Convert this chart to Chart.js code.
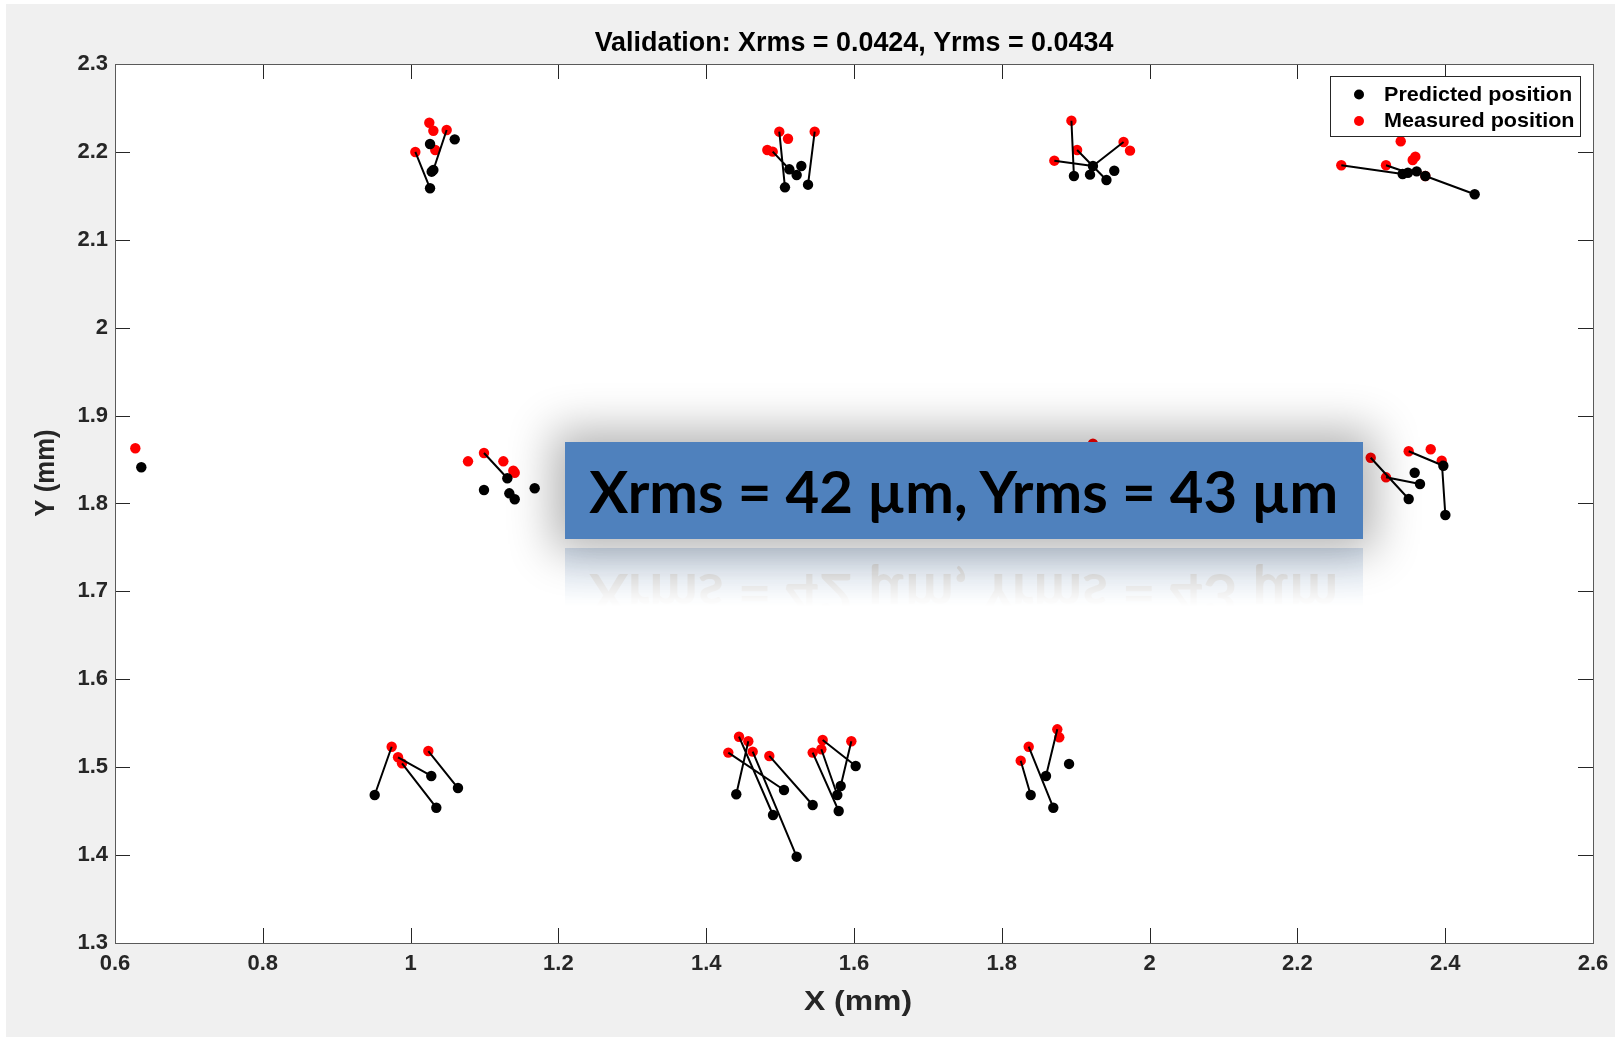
<!DOCTYPE html>
<html>
<head>
<meta charset="utf-8">
<script src="https://cdn.jsdelivr.net/npm/chart.js@4.4.1/dist/chart.umd.min.js"></script>
<style>
  html, body { margin: 0; padding: 0; background: #fff; }
  #wrap { position: relative; width: 1621px; height: 1040px; overflow: hidden; }
  #chart { position: absolute; left: 0; top: 0; }
  #callout {
    position: absolute; left: 565px; top: 442px; width: 798px; height: 97px;
    background: #4f81bd;
    box-shadow: 0 0 45px 12px rgba(0, 0, 0, 0.30);
    -webkit-box-reflect: below 9px linear-gradient(transparent 40%, rgba(255, 255, 255, 0.22));
    display: flex; align-items: center; justify-content: center;
    overflow: hidden; white-space: nowrap;
  }
  #callout span {
    display: inline-block; font: 700 58px Lato, "Open Sans", sans-serif;
    line-height: 97px; color: #000; transform-origin: center;
  }
</style>
</head>
<body>
<div id="wrap">
  <canvas id="chart" width="1621" height="1040"></canvas>
  <div id="callout"><span>Xrms = 42 µm, Yrms = 43 µm</span></div>
</div>
<script>
const xTicks = [0.6, 0.8, 1.0, 1.2, 1.4, 1.6, 1.8, 2.0, 2.2, 2.4, 2.6];
const yTicks = [1.3, 1.4, 1.5, 1.6, 1.7, 1.8, 1.9, 2.0, 2.1, 2.2, 2.3];

// predicted marker positions (mm)
const predX = [
  1.0263, 1.0597, 1.0308, 1.0285, 1.0263,
  1.5066, 1.5125, 1.5224, 1.5287, 1.5378,
  1.8976, 1.9194, 1.9233, 1.9416, 1.9522,
  2.3424, 2.3496, 2.3614, 2.3731, 2.4399,
  0.6356, 1.1309, 1.0993, 1.1336, 1.1409, 1.1679,
  2.3587, 2.3659, 2.3506, 2.3975, 2.4002,
  0.9514, 1.0280, 1.0348, 1.0641,
  1.4407, 1.5053, 1.4904, 1.5224, 1.5441, 1.5820, 1.5774, 1.5793, 1.6023,
  1.8598, 1.8910, 1.8391, 1.8697
];
const predY = [
  2.2090, 2.2143, 2.1794, 2.1775, 2.1586,
  2.1597, 2.1802, 2.1737, 2.1840, 2.1627,
  2.1726, 2.1741, 2.1840, 2.1680, 2.1786,
  2.1749, 2.1763, 2.1779, 2.1726, 2.1518,
  1.8412, 1.8287, 1.8154, 1.8116, 1.8048, 1.8173,
  1.8350, 1.8222, 1.8051, 1.8430, 1.7869,
  1.4684, 1.4900, 1.4539, 1.4763,
  1.4692, 1.4741, 1.4456, 1.3982, 1.4570, 1.4786, 1.4684, 1.4502, 1.5014,
  1.4900, 1.5037, 1.4684, 1.4539
];

// measured marker positions (mm)
const measX = [
  1.0253, 1.0308, 1.0488, 1.0064, 1.0334,
  1.4989, 1.5107, 1.5468, 1.4827, 1.4900,
  1.8942, 1.9019, 1.8711, 1.9648, 1.9735,
  2.2594, 2.3199, 2.3398, 2.3560, 2.3596, 2.3731,
  0.6275, 1.0777, 1.0993, 1.1255, 1.1390, 1.1409,
  1.9233,
  2.2992, 2.3199, 2.3506, 2.3804, 2.3953,
  0.9744, 0.9830, 0.9884, 1.0240,
  1.4444, 1.4570, 1.4299, 1.4629, 1.4854, 1.5576, 1.5964, 1.5441, 1.5558,
  1.8751, 1.8778, 1.8364, 1.8256
];
const measY = [
  2.2332, 2.2241, 2.2249, 2.1999, 2.2022,
  2.2230, 2.2150, 2.2230, 2.2022, 2.2003,
  2.2355, 2.2022, 2.1900, 2.2113, 2.2014,
  2.1848, 2.1848, 2.2121, 2.1908, 2.1946, 2.1726,
  1.8628, 1.8480, 1.8575, 1.8480, 1.8373, 1.8350,
  1.8680,
  1.8521, 1.8298, 1.8594, 1.8617, 1.8487,
  1.5233, 1.5113, 1.5044, 1.5184,
  1.5347, 1.5295, 1.5166, 1.5177, 1.5128, 1.5309, 1.5295, 1.5166, 1.5204,
  1.5431, 1.5340, 1.5233, 1.5074
];

// pairs joined by a segment: index into pred*, index into meas*
const linkPred = [4, 2, 5, 9, 6, 10, 13, 12, 12, 15, 16, 19, 21, 28, 27, 29, 30,
  31, 32, 33, 34, 35, 37, 38, 36, 39, 42, 41, 43, 40, 44, 47, 46];
const linkMeas = [3, 2, 5, 7, 9, 10, 11, 12, 13, 15, 16, 20, 23, 28, 29, 30, 32,
  33, 34, 35, 36, 38, 37, 40, 39, 41, 44, 45, 42, 43, 46, 48, 49];

const linkPoints = [];
linkPred.forEach((p, i) => {
  const m = linkMeas[i];
  linkPoints.push({ x: predX[p], y: predY[p] }, { x: measX[m], y: measY[m] }, { x: null, y: null });
});

const FONT = '"Liberation Sans", Arial, Helvetica, sans-serif';
const AXIS_COLOR = '#262626';
const fmt = v => String(Math.round(v * 10) / 10);

// text drawn with a horizontal squeeze/stretch around (x, y)
function stretchedText(ctx, text, x, y, sx) {
  ctx.save();
  ctx.translate(x, y);
  ctx.scale(sx, 1);
  ctx.fillText(text, 0, 0);
  ctx.restore();
}

const frame = {
  id: 'frame',
  beforeDraw(chart) {
    const { ctx, chartArea: a } = chart;
    ctx.save();
    ctx.fillStyle = '#fff';
    ctx.fillRect(0, 0, chart.width, chart.height);
    ctx.fillStyle = '#f0f0f0';
    ctx.fillRect(6, 4, chart.width - 12, chart.height - 7);
    ctx.fillStyle = '#fff';
    ctx.fillRect(a.left, a.top, a.right - a.left, a.bottom - a.top);
    ctx.restore();
  },
  afterDraw(chart) {
    const { ctx, chartArea: a } = chart;
    const xs = chart.scales.x, ys = chart.scales.y;
    const tl = 15;
    ctx.save();
    ctx.strokeStyle = AXIS_COLOR;
    ctx.lineWidth = 1;
    ctx.beginPath();
    xTicks.forEach(v => {
      const px = Math.round(xs.getPixelForValue(v)) + 0.5;
      ctx.moveTo(px, a.bottom); ctx.lineTo(px, a.bottom - tl);
      ctx.moveTo(px, a.top); ctx.lineTo(px, a.top + tl);
    });
    yTicks.forEach(v => {
      const py = Math.round(ys.getPixelForValue(v)) + 0.5;
      ctx.moveTo(a.left, py); ctx.lineTo(a.left + tl, py);
      ctx.moveTo(a.right, py); ctx.lineTo(a.right - tl, py);
    });
    ctx.stroke();
    ctx.strokeStyle = '#5a5a5a';
    ctx.strokeRect(Math.round(a.left) + 0.5, Math.round(a.top) + 0.5,
      Math.round(a.right - a.left), Math.round(a.bottom - a.top));

    // title
    ctx.fillStyle = '#000';
    ctx.textAlign = 'center';
    ctx.textBaseline = 'middle';
    ctx.font = 'bold 26.9px ' + FONT;
    ctx.fillText('Validation: Xrms = 0.0424, Yrms = 0.0434', (a.left + a.right) / 2, 44);

    // axis titles
    ctx.fillStyle = AXIS_COLOR;
    ctx.font = 'bold 28px ' + FONT;
    stretchedText(ctx, 'X (mm)', (a.left + a.right) / 2 + 4, 1002, 1.14);
    ctx.save();
    ctx.translate(46, 473);
    ctx.rotate(-Math.PI / 2);
    stretchedText(ctx, 'Y (mm)', 0, 0, 0.92);
    ctx.restore();

    // legend
    const lx = 1330.5, ly = 76.5, lw = 250, lh = 60;
    ctx.fillStyle = '#fff';
    ctx.fillRect(lx, ly, lw, lh);
    ctx.strokeStyle = AXIS_COLOR;
    ctx.strokeRect(lx, ly, lw, lh);
    const entries = [['Predicted position', '#000', 94.5], ['Measured position', '#ff0000', 121]];
    ctx.font = 'bold 19.8px ' + FONT;
    ctx.textAlign = 'left';
    entries.forEach(([label, color, y]) => {
      ctx.fillStyle = color;
      ctx.beginPath();
      ctx.arc(1359, y, 5, 0, Math.PI * 2);
      ctx.fill();
      ctx.fillStyle = '#000';
      stretchedText(ctx, label, 1384, y + 1, 1.09);
    });
    ctx.restore();
  }
};

const tickFont = { family: FONT, size: 22, weight: 'bold' };

new Chart(document.getElementById('chart'), {
  type: 'scatter',
  data: {
    datasets: [
      {
        label: 'links', data: linkPoints, showLine: true, spanGaps: false,
        borderColor: '#000', borderWidth: 2, pointRadius: 0, order: 0
      },
      {
        label: 'Predicted position', data: predX.map((x, i) => ({ x, y: predY[i] })),
        backgroundColor: '#000', borderWidth: 0, pointRadius: 5.2, order: 1
      },
      {
        label: 'Measured position', data: measX.map((x, i) => ({ x, y: measY[i] })),
        backgroundColor: '#ff0000', borderWidth: 0, pointRadius: 5.2, order: 2
      }
    ]
  },
  options: {
    responsive: false,
    animation: false,
    devicePixelRatio: 1,
    layout: { padding: { top: 64, right: 28, left: 0, bottom: 0 } },
    plugins: { legend: { display: false }, tooltip: { enabled: false } },
    scales: {
      x: {
        type: 'linear', min: 0.6, max: 2.6,
        afterBuildTicks: s => { s.ticks = xTicks.map(v => ({ value: v })); },
        afterFit: s => { s.height = 97; },
        grid: { display: false, drawTicks: false }, border: { display: false },
        ticks: { font: tickFont, color: AXIS_COLOR, padding: 8, maxRotation: 0, autoSkip: false, callback: fmt }
      },
      y: {
        type: 'linear', min: 1.3, max: 2.3,
        afterBuildTicks: s => { s.ticks = yTicks.map(v => ({ value: v })); },
        afterFit: s => { s.width = 115; },
        grid: { display: false, drawTicks: false }, border: { display: false },
        ticks: { font: tickFont, color: AXIS_COLOR, padding: 7, autoSkip: false, callback: fmt }
      }
    }
  },
  plugins: [frame]
});

// squeeze the callout text to the box's type width
const span = document.querySelector('#callout span');
const w = span.getBoundingClientRect().width;
span.style.transform = 'scaleX(' + (749 / w) + ')';
</script>
</body>
</html>
